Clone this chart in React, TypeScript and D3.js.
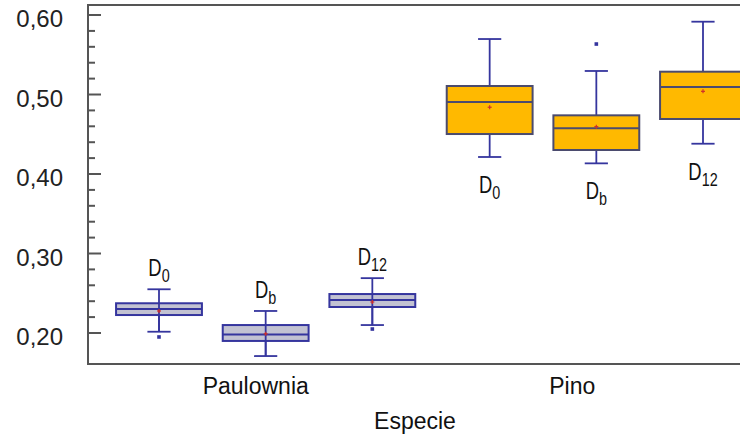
import * as d3 from 'd3'

// chart data
const species = ['Paulownia', 'Pino']
const treatments = [
  { base: 'D', sub: '0' },
  { base: 'D', sub: 'b' },
  { base: 'D', sub: '12' },
]
// one entry per box: Paulownia D0, Db, D12, Pino D0, Db, D12
const whiskerLow = [0.2016, 0.171, 0.21, 0.4214, 0.4134, 0.4381]
const q1 = [0.2226, 0.19, 0.2327, 0.4503, 0.4302, 0.4692]
const median = [0.2302, 0.198, 0.2415, 0.4906, 0.4575, 0.5094]
const q3 = [0.2374, 0.21, 0.249, 0.5107, 0.4738, 0.5287]
const whiskerHigh = [0.255, 0.2277, 0.269, 0.5698, 0.5296, 0.5916]
const means = [0.2277, 0.199, 0.239, 0.484, 0.4596, 0.504]
const outliers = [[0.195], [], [0.205], [], [0.5635], []]
const yTicks = [0.2, 0.3, 0.4, 0.5, 0.6]

const W = 740
const H = 437
const margin = { left: 88, top: 5, bottom: 73 }
const plotRight = 742

const App = () => {
  const y = d3.scaleLinear().domain([0.161, 0.6126]).range([H - margin.bottom, margin.top])
  // box position = species index * 3.1 + treatment index
  const x = d3.scaleLinear().domain([0, 5.1]).range([159, 703])
  const boxW = (x(1) - x(0)) * 0.805
  const capW = boxW * 0.27
  const catX = d3.scalePoint().domain(species).range([margin.left, W]).padding(0.53)

  const minorTicks = d3.range(0.2, 0.6001, 0.02).filter((v) => Math.abs(Math.round(v * 10) - v * 10) > 0.01)

  const fmt = (v: number) => v.toFixed(2).replace('.', ',')

  const boxes = whiskerLow.map((_, i) => {
    const g = Math.floor(i / 3)
    const t = i % 3
    return { i, g, t, cx: x(g * 3.1 + t) }
  })

  const font = "'Liberation Sans', Arial, sans-serif"
  const blue = '#35359e'

  return (
    <svg width={W} height={H} style={{ position: 'absolute', left: 0, top: 0, background: '#fff' }}>
      {/* frame */}
      <path
        d={`M${plotRight},${margin.top}H${margin.left}V${H - margin.bottom}H${plotRight}`}
        fill="none"
        stroke="#555"
        strokeWidth={2}
      />
      {/* y ticks */}
      {yTicks.map((v) => (
        <g key={v}>
          <line x1={margin.left} x2={margin.left + 13} y1={y(v)} y2={y(v)} stroke="#555" strokeWidth={2} />
          <text x={63} y={y(v) + 12} textAnchor="end" fontSize={24} fontFamily={font} fill="#222">
            {fmt(v)}
          </text>
        </g>
      ))}
      {minorTicks.map((v) => (
        <line key={v} x1={margin.left} x2={margin.left + 7} y1={y(v)} y2={y(v)} stroke="#555" strokeWidth={2} />
      ))}

      {boxes.map(({ i, g, t, cx }) => {
        const pino = g === 1
        const fill = pino ? '#ffb900' : '#c2c2d2'
        const boxStroke = pino ? '#4b4b6e' : blue
        const whiskers = (
          <g stroke={blue} strokeWidth={1.8}>
            <line x1={cx} x2={cx} y1={y(whiskerHigh[i])} y2={pino ? y(q3[i]) : y(whiskerLow[i])} />
            <line x1={cx} x2={cx} y1={y(q1[i])} y2={y(whiskerLow[i])} />
            <line x1={cx - capW / 2} x2={cx + capW / 2} y1={y(whiskerHigh[i])} y2={y(whiskerHigh[i])} />
            <line x1={cx - capW / 2} x2={cx + capW / 2} y1={y(whiskerLow[i])} y2={y(whiskerLow[i])} />
          </g>
        )
        const labelY = pino ? y(whiskerLow[i]) + 36 : y(whiskerHigh[i]) - 13
        return (
          <g key={i}>
            {pino && whiskers}
            <rect
              x={cx - boxW / 2}
              y={y(q3[i])}
              width={boxW}
              height={y(q1[i]) - y(q3[i])}
              fill={fill}
              stroke={boxStroke}
              strokeWidth={2}
            />
            {!pino && whiskers}
            <line
              x1={cx - boxW / 2}
              x2={cx + boxW / 2}
              y1={y(median[i])}
              y2={y(median[i])}
              stroke={pino ? '#4b4b6e' : blue}
              strokeWidth={2}
            />
            <g stroke="#d0302a" strokeWidth={1.2}>
              <line x1={cx - 2} x2={cx + 2} y1={y(means[i])} y2={y(means[i])} />
              <line x1={cx} x2={cx} y1={y(means[i]) - 2} y2={y(means[i]) + 2} />
            </g>
            {outliers[i].map((o, k) => (
              <rect key={k} x={cx - 1.8} y={y(o) - 1.8} width={3.6} height={3.6} fill={blue} />
            ))}
            {/* narrow-looking label: squeeze horizontally */}
            <text
              transform={`translate(${cx},${labelY}) scale(0.8,1)`}
              textAnchor="middle"
              fontFamily={font}
              fontSize={23}
              fill="#111"
            >
              <tspan>{treatments[t].base}</tspan>
              <tspan fontSize={18} dy={6}>
                {treatments[t].sub}
              </tspan>
            </text>
          </g>
        )
      })}

      {species.map((s) => (
        <text key={s} x={catX(s)} y={394} textAnchor="middle" fontSize={23} fontFamily={font} fill="#111">
          {s}
        </text>
      ))}
      <text x={415} y={429} textAnchor="middle" fontSize={23} fontFamily={font} fill="#111">
        Especie
      </text>
    </svg>
  )
}

export default App
